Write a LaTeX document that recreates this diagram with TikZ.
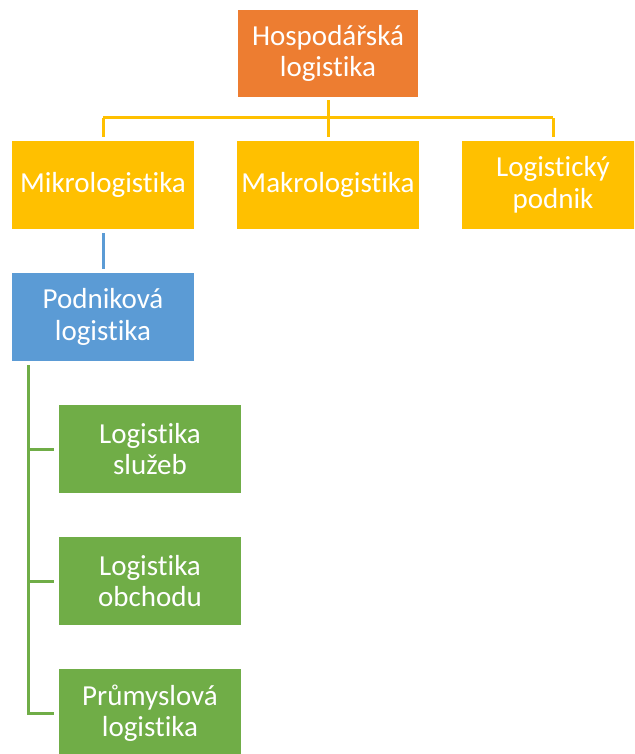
\documentclass[tikz,border=0pt]{standalone}
\usepackage{fontspec}
\setmainfont{Carlito}[Ligatures={NoCommon}]
\definecolor{hOrange}{HTML}{ED7D31}
\definecolor{hYellow}{HTML}{FFC000}
\definecolor{hBlue}{HTML}{5B9BD5}
\definecolor{hGreen}{HTML}{70AD47}
\tikzset{
  box/.style={rectangle, minimum width=182pt, minimum height=88pt, inner sep=0pt,
    text=white, align=center, font=\fontsize{29}{31.5}\selectfont},
  topbox/.style={box, fill=hOrange, minimum width=180pt, minimum height=87pt},
  ybox/.style={box, fill=hYellow},
  bbox/.style={box, fill=hBlue},
  gbox/.style={box, fill=hGreen},
  link/.style={line width=3pt},
}
\begin{document}
\begin{tikzpicture}[x=1pt, y=-1pt]
  \useasboundingbox (0,0) rectangle (634,754);
  \clip (0,0) rectangle (634,754);
  \fill[white] (0,0) rectangle (634,754);

  % boxes
  \node[topbox] (top) at (328,53.5) {Hospodářská\\logistika};
  \node[ybox] (mikro) at (103,185) {Mikrologistika\vphantom{pk}};
  \node[ybox] (makro) at (328,185) {Makrologistika};
  \node[ybox] (lpodnik) at (553,185) {Logistický\\podnik};
  \node[bbox] (podnikova) at (103,317) {Podniková\\logistika};
  \node[gbox] (sluzby) at (150,449) {Logistika\\služeb};
  \node[gbox] (obchod) at (150,581) {Logistika\\obchodu};
  \node[gbox] (prumysl) at (150,713) {Průmyslová\\logistika};

  % top-level hierarchy connectors
  \coordinate (hub) at (328,118);
  \draw[link, hYellow, shorten <=3pt] (top.south) -- (hub);
  \draw[link, hYellow] (mikro.north |- hub) -- (lpodnik.north |- hub);
  \draw[link, hYellow, shorten >=4pt] (mikro.north |- hub) -- (mikro.north);
  \draw[link, hYellow, shorten >=4pt] (makro.north |- hub) -- (makro.north);
  \draw[link, hYellow, shorten >=4pt] (lpodnik.north |- hub) -- (lpodnik.north);

  % micro -> company logistics
  \draw[link, hBlue, shorten <=4pt, shorten >=4pt] (mikro.south) -- (podnikova.north);

  % company logistics branches
  \coordinate (gtop) at ([xshift=17pt, yshift=-4pt]podnikova.south west);
  \draw[link, hGreen, shorten >=5pt] (gtop) |- (prumysl.west);
  \draw[link, hGreen, shorten >=5pt] (gtop |- sluzby.west) -- (sluzby.west);
  \draw[link, hGreen, shorten >=5pt] (gtop |- obchod.west) -- (obchod.west);
\end{tikzpicture}
\end{document}
